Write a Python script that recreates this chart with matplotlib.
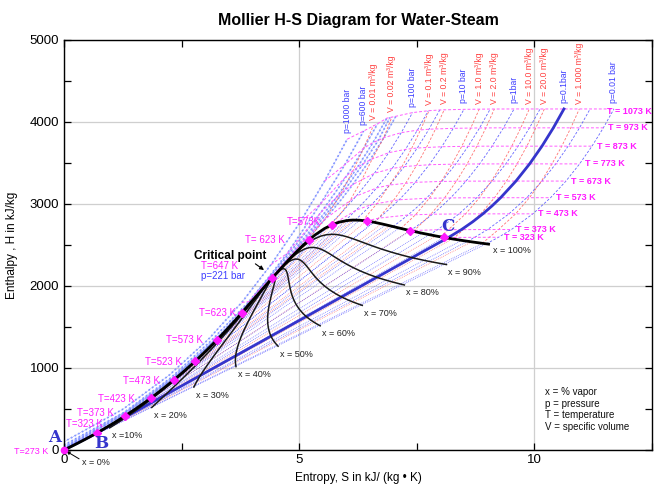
import matplotlib
matplotlib.use("Agg")
import matplotlib.pyplot as plt

# ---------------- saturation table (T in degC, h in kJ/kg, s in kJ/kgK) ----------------
SAT_T = [0.01, 5, 10, 20, 30, 40, 50, 60, 80, 100, 120, 140, 150, 160, 180, 200, 220, 240,
         250, 260, 280, 300, 320, 340, 350, 360, 370, 374.14]
SAT_HF = [0.01, 20.98, 42.01, 83.96, 125.79, 167.57, 209.33, 251.13, 334.91, 419.04, 503.71,
          589.13, 632.20, 675.55, 763.22, 852.45, 943.62, 1037.32, 1085.36, 1134.37, 1236.0,
          1344.0, 1461.5, 1594.2, 1671.9, 1764.2, 1890.5, 2099.3]
SAT_HG = [2501.4, 2510.6, 2519.8, 2538.1, 2556.3, 2574.3, 2592.1, 2609.6, 2643.7, 2676.1,
          2706.3, 2733.9, 2746.5, 2758.1, 2778.2, 2793.2, 2802.1, 2804.0, 2801.5, 2796.6,
          2779.6, 2749.0, 2700.1, 2622.0, 2563.9, 2481.0, 2332.1, 2099.3]
SAT_SF = [0.0, 0.0761, 0.1510, 0.2966, 0.4369, 0.5725, 0.7038, 0.8312, 1.0753, 1.3069, 1.5276,
          1.7391, 1.8418, 1.9427, 2.1396, 2.3309, 2.5178, 2.7015, 2.7927, 2.8838, 3.0668,
          3.2534, 3.4480, 3.6594, 3.7777, 3.9147, 4.1106, 4.4298]
SAT_SG = [9.1562, 9.0257, 8.9008, 8.6672, 8.4533, 8.2570, 8.0763, 7.9096, 7.6122, 7.3549,
          7.1296, 6.9299, 6.8379, 6.7502, 6.5857, 6.4323, 6.2861, 6.1437, 6.0730, 6.0019,
          5.8571, 5.7045, 5.5362, 5.3357, 5.2112, 5.0526, 4.7971, 4.4298]

QUALITIES = [0.1, 0.2, 0.3, 0.4, 0.5, 0.6, 0.7, 0.8, 0.9]
QUALITY_LABELS = ["x =10%", "x = 20%", "x = 30%", "x = 40%", "x = 50%", "x = 60%",
                  "x = 70%", "x = 80%", "x = 90%"]

# marked saturation states (degC) and their labels
LIQ_MARK_T = [50, 100, 150, 200, 250, 300, 350]
LIQ_MARK_LABELS = ["T=323 K", "T=373 K", "T=423 K", "T=473 K", "T=523 K", "T=573 K", "T=623 K"]
VAP_MARK_T = [350, 300, 200, 100, 50]
VAP_MARK_LABELS = ["T= 623 K", "T=573K", "", "", ""]

# ---------------- isobars: T (degC), S, H ----------------
P1000_T = [0.01, 100, 200, 300, 400, 500, 600, 700, 800]
P1000_S = [-0.01, 1.26, 2.23, 3.07, 3.78, 4.40, 5.00, 5.54, 6.02]
P1000_H = [97, 500, 910, 1350, 1800, 2260, 2760, 3280, 3790]

P600_T = [0.01, 100, 200, 300, 400, 450, 500, 600, 700, 800]
P600_S = [0.0, 1.28, 2.27, 3.14, 3.93, 4.30, 4.75, 5.45, 5.97, 6.37]
P600_H = [60, 460, 880, 1340, 1810, 2070, 2400, 3000, 3480, 3890]

P400_T = [0.01, 100, 200, 300, 375, 400, 425, 450, 500, 550, 600, 650, 700, 800]
P400_S = [0.0, 1.29, 2.29, 3.18, 3.8289, 4.1141, 4.5029, 4.9447, 5.4700, 5.7785, 6.0114,
          6.2054, 6.3750, 6.6662]
P400_H = [40, 455, 870, 1330, 1677.1, 1930.9, 2198.1, 2512.8, 2903.3, 3149.1, 3346.4,
          3520.6, 3681.5, 3978.3]

P300_T = [0.01, 100, 200, 300, 350, 375, 400, 425, 450, 500, 600, 700, 800]
P300_S = [0.0, 1.29, 2.30, 3.20, 3.65, 3.9305, 4.4728, 5.15, 5.4423, 5.7956, 6.2331, 6.5703, 6.8630]
P300_H = [30, 445, 866, 1330, 1620, 1791.5, 2151.1, 2614, 2821.4, 3083.3, 3444.0, 3750.7, 4047.1]

P250_T = [0.01, 100, 200, 300, 350, 375, 400, 425, 450, 500, 600, 700, 800]
P250_S = [0.0, 1.295, 2.305, 3.21, 3.69, 4.0320, 5.1418, 5.4723, 5.6744, 5.9592, 6.3602, 6.68, 6.93]
P250_H = [25, 440, 864, 1333, 1625, 1848.0, 2580.2, 2806.3, 2949.7, 3162.4, 3491.4, 3776, 4055]

P200_T = [0.01, 100, 200, 300, 350, 365.81, 365.81, 400, 450, 500, 600, 700, 800]
P200_S = [0.0, 1.30, 2.31, 3.22, 3.73, 4.0139, 4.9269, 5.5540, 5.9017, 6.1401, 6.5048, 6.7993, 7.0544]
P200_H = [20, 436, 861, 1335, 1650, 1826.3, 2409.7, 2818.1, 3060.1, 3238.2, 3537.6, 3809.0, 4069.8]

P100_T = [0.01, 50, 100, 200, 300, 311.06, 311.06, 350, 400, 450, 500, 600, 700, 800]
P100_S = [0.0003, 0.70, 1.30, 2.32, 3.21, 3.3606, 5.6159, 5.9460, 6.2141, 6.4219, 6.5995,
          6.9045, 7.1696, 7.4087]
P100_H = [10.1, 218, 427, 857, 1343, 1408.1, 2725.5, 2924.0, 3097.5, 3242.4, 3375.1,
          3625.8, 3870.0, 4114.5]

P50_T = [263.99, 263.99, 300, 350, 400, 450, 500, 600, 700, 800]
P50_S = [2.9202, 5.9734, 6.2084, 6.4493, 6.6459, 6.8186, 6.9759, 7.2589, 7.5122, 7.7440]
P50_H = [1154.2, 2794.3, 2924.5, 3068.4, 3195.7, 3316.2, 3433.8, 3666.5, 3900.1, 4137.1]

P30_T = [233.85, 233.85, 250, 300, 350, 400, 500, 600, 700, 800]
P30_S = [2.6454, 6.1856, 6.2893, 6.5412, 6.7449, 6.9234, 7.2359, 7.5103, 7.7590, 7.9885]
P30_H = [1008.3, 2803.2, 2856.5, 2994.3, 3116.1, 3231.7, 3457.0, 3682.8, 3912.2, 4146.9]

P10_T = [179.88, 179.88, 200, 250, 300, 350, 400, 500, 600, 700, 800]
P10_S = [2.1387, 6.5850, 6.6956, 6.9265, 7.1246, 7.3029, 7.4670, 7.7642, 8.0311, 8.2755, 8.5024]
P10_H = [762.8, 2777.1, 2828.3, 2943.1, 3051.6, 3158.2, 3264.5, 3479.1, 3698.6, 3923.0, 4154.3]

P3_T = [133.52, 133.52, 150, 200, 250, 300, 350, 400, 500, 600, 700, 800]
P3_S = [1.6717, 6.9916, 7.0792, 7.3132, 7.5180, 7.7037, 7.873, 8.0347, 8.3271, 8.5915, 8.8345, 9.0605]
P3_H = [561.5, 2724.9, 2761.2, 2865.9, 2967.9, 3069.6, 3172, 3275.5, 3486.6, 3704.0, 3927.6, 4158.1]

P1_T = [99.61, 99.61, 150, 200, 250, 300, 350, 400, 500, 600, 700, 800]
P1_S = [1.3026, 7.3589, 7.6148, 7.8356, 8.0346, 8.2172, 8.386, 8.5452, 8.8362, 9.0999, 9.3424, 9.5682]
P1_H = [417.5, 2675.0, 2776.6, 2875.5, 2974.5, 3074.5, 3176, 3278.6, 3488.7, 3705.6, 3928.9, 4159.2]

P03_T = [69.09, 69.09, 100, 200, 300, 400, 500, 600, 700, 800]
P03_S = [0.9441, 7.7675, 7.941, 8.397, 8.774, 9.101, 9.391, 9.654, 9.896, 10.121]
P03_H = [289.3, 2624.6, 2686.0, 2879.0, 3076.2, 3279.4, 3489.0, 3705.3, 3928.6, 4158.9]

P01_T = [0.01, 45.81, 45.81, 50, 100, 150, 200, 250, 300, 400, 500, 600, 700, 800]
P01_S = [0.0, 0.6493, 8.1488, 8.1741, 8.4479, 8.6882, 8.9038, 9.1002, 9.2813, 9.6077, 9.8978,
         10.1608, 10.4028, 10.6281]
P01_H = [0.01, 191.8, 2583.9, 2592.0, 2687.5, 2783.0, 2879.5, 2977.3, 3076.5, 3279.6, 3489.1,
         3705.4, 3928.7, 4159.0]

P003_T = [24.08, 24.08, 50, 100, 200, 300, 400, 500, 600, 700, 800]
P003_S = [0.3543, 8.5765, 8.730, 9.004, 9.460, 9.837, 10.163, 10.454, 10.717, 10.959, 11.184]
P003_H = [101.0, 2544.8, 2593.5, 2688.2, 2880.0, 3076.7, 3279.7, 3489.2, 3705.5, 3928.8, 4159.1]

P001_T = [6.97, 6.97, 50, 100, 200, 300, 400, 500, 600, 700, 800]
P001_S = [0.1059, 8.975, 9.237, 9.511, 9.967, 10.344, 10.671, 10.961, 11.224, 11.466, 11.691]
P001_H = [29.3, 2513.7, 2594.5, 2688.6, 2880.1, 3076.8, 3279.7, 3489.2, 3705.5, 3928.8, 4159.1]

# ---------------- isochores (superheated part) ----------------
V001_S = [5.22, 5.55, 5.88, 6.15, 6.37, 6.58]
V001_H = [2588, 2818, 3120, 3415, 3680, 3960]
V002_S = [5.66, 5.88, 6.07, 6.34, 6.55, 6.79, 6.97]
V002_H = [2738, 2880, 3030, 3305, 3545, 3800, 4060]
V01_S = [6.35, 6.66, 6.92, 7.186, 7.394, 7.586, 7.767]
V01_H = [2797, 3010, 3232, 3456, 3682, 3912, 4146]
V02_S = [6.60, 6.69, 7.025, 7.279, 7.506, 7.714, 7.906, 8.087]
V02_H = [2777, 2828, 3060, 3267, 3481, 3700, 3924, 4155]
V1_S = [7.16, 7.475, 7.768, 8.022, 8.249, 8.457, 8.649, 8.829]
V1_H = [2702, 2870, 3072, 3277, 3488, 3705, 3929, 4159]
V2_S = [7.43, 7.795, 8.088, 8.342, 8.569, 8.777, 8.969, 9.149]
V2_H = [2668, 2873, 3073, 3278, 3488, 3705, 3929, 4159]
V10_S = [8.00, 8.173, 8.538, 8.831, 9.085, 9.311, 9.519, 9.711, 9.892]
V10_H = [2600, 2688, 2880, 3076, 3279, 3489, 3705, 3929, 4159]
V20_S = [8.265, 8.493, 8.858, 9.151, 9.405, 9.631, 9.839, 10.031, 10.212]
V20_H = [2573, 2688, 2880, 3076, 3279, 3489, 3705, 3929, 4159]
V100_S = [8.89, 9.236, 9.601, 9.894, 10.148, 10.374, 10.582, 10.774, 10.955]
V100_H = [2520, 2688, 2880, 3076, 3279, 3489, 3705, 3929, 4159]

ISOTHERM_K = [323, 373, 473, 573, 673, 773, 873, 973, 1073]

# (label, T, S, H, supercritical?)
ISOBARS = [
    ("p=1000 bar", P1000_T, P1000_S, P1000_H, True),
    ("p=600 bar", P600_T, P600_S, P600_H, True),
    ("", P400_T, P400_S, P400_H, True),
    ("", P300_T, P300_S, P300_H, True),
    ("", P250_T, P250_S, P250_H, True),
    ("", P200_T, P200_S, P200_H, True),
    ("p=100 bar", P100_T, P100_S, P100_H, False),
    ("", P50_T, P50_S, P50_H, False),
    ("", P30_T, P30_S, P30_H, False),
    ("p=10 bar", P10_T, P10_S, P10_H, False),
    ("", P3_T, P3_S, P3_H, False),
    ("p=1bar", P1_T, P1_S, P1_H, False),
    ("", P03_T, P03_S, P03_H, False),
    ("p=0.1bar", P01_T, P01_S, P01_H, False),
    ("", P003_T, P003_S, P003_H, False),
    ("p=0.01 bar", P001_T, P001_S, P001_H, False),
]
ISOCHORES = [
    ("V = 0.01 m\u00b3/kg", V001_S, V001_H),
    ("V = 0.02 m\u00b3/kg", V002_S, V002_H),
    ("V = 0.1 m\u00b3/kg", V01_S, V01_H),
    ("V = 0.2 m\u00b3/kg", V02_S, V02_H),
    ("V = 1.0 m\u00b3/kg", V1_S, V1_H),
    ("V = 2.0 m\u00b3/kg", V2_S, V2_H),
    ("V = 10.0 m\u00b3/kg", V10_S, V10_H),
    ("V = 20.0 m\u00b3/kg", V20_S, V20_H),
    ("V = 1.000 m\u00b3/kg", V100_S, V100_H),
]

# ---------------- styling ----------------
BLUE = "#4a4aff"
LBLUE = "#90a6ff"
RED = "#ff5a5a"
PINK = "#ff5cff"
MAG = "#ff1aff"
BLUE_TXT = "#3d3dff"
RED_TXT = "#ff4040"
DOT = (0, (1, 1.3))
DASH = (0, (3, 2))

plt.rcParams["font.family"] = ["Liberation Sans", "DejaVu Sans"]

fig = plt.figure(figsize=(6.59, 4.88), dpi=100)
ax = fig.add_axes([64 / 659, 1 - 450 / 488, 588 / 659, 410 / 488])
ax.set_xlim(0, 12.43)
ax.set_ylim(0, 5000)

ax.set_xticks([0, 5, 10])
ax.set_xticks([2.5, 7.5, 12.5], minor=True)
ax.set_yticks([0, 1000, 2000, 3000, 4000, 5000])
ax.set_yticks([500, 1500, 2500, 3500, 4500], minor=True)
ax.tick_params(which="both", direction="in", top=True, right=True, length=5, width=0.9,
               labelsize=9.5, colors="black")
ax.tick_params(axis="x", pad=3)
ax.grid(which="major", color="#cfcfcf", lw=0.9, zorder=0)
for sp in ax.spines.values():
    sp.set_linewidth(1.0)

ax.set_title("Mollier H-S Diagram for Water-Steam", fontsize=11.5, fontweight="bold", pad=11)
ax.set_xlabel("Entropy, S in kJ/ (kg \u2022 K)", fontsize=8.5, labelpad=4)
ax.set_ylabel("Enthalpy , H in kJ/kg", fontsize=8.5, labelpad=8)

# wet-region isobars/isotherms (straight lines between saturated states)
for i in range(2, len(SAT_T) - 1):
    col = BLUE if i % 2 == 0 else RED
    ax.plot([SAT_SF[i], SAT_SG[i]], [SAT_HF[i], SAT_HG[i]], color=col, lw=0.6,
            ls=DOT, alpha=0.75, zorder=2)

# isobars
for label, T, S, H, sup in ISOBARS:
    if sup:
        # compressed liquid + supercritical: light blue band / fan
        ax.plot(S, H, color=LBLUE, lw=1.3, ls=DOT, zorder=2)
        ax.plot(S, H, color=BLUE, lw=0.5, ls=DOT, alpha=0.6, zorder=2)
        continue
    if label == "p=0.1bar":
        continue
    # index of the saturated-liquid state (first repeated temperature)
    ks = next(k for k in range(len(T) - 1) if T[k + 1] == T[k])
    if ks > 0:
        ax.plot(S[:ks + 1], H[:ks + 1], color=LBLUE, lw=1.3, ls=DOT, zorder=2)
    ax.plot(S[ks:ks + 2], H[ks:ks + 2], color=BLUE, lw=0.6, ls=DOT, alpha=0.8, zorder=2)
    ax.plot(S[ks + 1:], H[ks + 1:], color=BLUE, lw=0.6, ls=DASH, alpha=0.85, zorder=2)

# isochores
for label, S, H in ISOCHORES:
    ax.plot(S, H, color=RED, lw=0.6, ls=DASH, alpha=0.85, zorder=2)

# isotherms (superheated part), built from the isobar tables
for TK in ISOTHERM_K:
    TC = TK - 273
    pts = []
    if TC in SAT_T:
        i = SAT_T.index(TC)
        pts.append((SAT_SG[i], SAT_HG[i]))
        smin = SAT_SG[i] + 0.01
    else:
        smin = -1
    for label, T, S, H, sup in ISOBARS:
        for k in range(len(T)):
            if T[k] == TC and S[k] > smin:
                pts.append((S[k], H[k]))
    pts.sort()
    xs = [p[0] for p in pts]
    ys = [p[1] for p in pts]
    ax.plot(xs, ys, color=PINK, lw=0.7, ls=DASH, zorder=2)
    off = (-7, -3) if TK == 1073 else (5, 0)
    ax.annotate("T = %d K" % TK, (xs[-1], ys[-1]), xytext=off, textcoords="offset pixels",
                ha="left", va="center", fontsize=6.5, color=MAG, fontweight="bold")

# p = 0.1 bar thick line
ax.plot(P01_S, P01_H, color="#3535cc", lw=2.0, zorder=4)

# quality lines
start = SAT_T.index(5)
for q, lab in zip(QUALITIES, QUALITY_LABELS):
    xs = [SAT_SF[i] + q * (SAT_SG[i] - SAT_SF[i]) for i in range(start, len(SAT_T))]
    ys = [SAT_HF[i] + q * (SAT_HG[i] - SAT_HF[i]) for i in range(start, len(SAT_T))]
    ax.plot(xs, ys, color="#1a1a1a", lw=1.1, zorder=5)
    ax.annotate(lab, (xs[0], ys[0]), xytext=(2, -8), textcoords="offset pixels",
                ha="left", va="center", fontsize=6.5, color="#222222")

# saturation dome
ax.plot(SAT_SF, SAT_HF, color="black", lw=2.0, zorder=6)
ax.plot(SAT_SG[start:], SAT_HG[start:], color="black", lw=2.0, zorder=6)
ax.annotate("x = 100%", (SAT_SG[start], SAT_HG[start]), xytext=(4, -6),
            textcoords="offset pixels", ha="left", va="center", fontsize=6.5, color="#222222")

# isobar / isochore top labels
for label, T, S, H, sup in ISOBARS:
    if label:
        ax.annotate(label, (S[-1], H[-1]), xytext=(0, 6), textcoords="offset pixels",
                    rotation=90, ha="center", va="bottom", fontsize=6.2, color=BLUE_TXT)
for label, S, H in ISOCHORES:
    ax.annotate(label, (S[-1], H[-1]), xytext=(0, 5), textcoords="offset pixels",
                rotation=90, ha="center", va="bottom", fontsize=6.2, color=RED_TXT)

# markers on saturation line
LIQ_OFF = [(6, 9), (-11, 3), (-16, -1), (-14, -1), (-13, -1), (-14, 0), (-6, 0)]
for TC, lab, off in zip(LIQ_MARK_T, LIQ_MARK_LABELS, LIQ_OFF):
    i = SAT_T.index(TC)
    ax.plot(SAT_SF[i], SAT_HF[i], marker="D", ms=4.5, color=MAG, zorder=8)
    ax.annotate(lab, (SAT_SF[i], SAT_HF[i]), xytext=off, textcoords="offset pixels",
                ha="right", va="center", fontsize=7, color=MAG)
VAP_OFF = [(-24, 0), (-11, 3), (0, 0), (0, 0), (0, 0)]
for TC, lab, off in zip(VAP_MARK_T, VAP_MARK_LABELS, VAP_OFF):
    i = SAT_T.index(TC)
    ax.plot(SAT_SG[i], SAT_HG[i], marker="D", ms=4.5, color=MAG, zorder=8)
    if lab:
        ax.annotate(lab, (SAT_SG[i], SAT_HG[i]), xytext=off, textcoords="offset pixels",
                    ha="right", va="center", fontsize=7, color=MAG)

# critical point and triple point markers
ic = len(SAT_T) - 1
ax.plot(SAT_SF[ic], SAT_HF[ic], marker="D", ms=4.5, color=MAG, zorder=8)
ax.plot(SAT_SF[0], SAT_HF[0], marker="o", ms=4.5, color=MAG, zorder=8, clip_on=False)

ax.text(3.53, 2366, "Critical point", fontsize=8.5, fontweight="bold", ha="center",
        va="center", zorder=9)
ax.text(2.92, 2244, "T=647 K", fontsize=7, color=MAG, ha="left", va="center", zorder=9)
ax.text(2.92, 2122, "p=221 bar", fontsize=7, color=BLUE_TXT, ha="left", va="center", zorder=9)
ax.annotate("", xy=(4.30, 2175), xytext=(4.02, 2290),
            arrowprops=dict(arrowstyle="-|>", color="black", lw=0.8, mutation_scale=6), zorder=9)

# A, B, C and origin notes
ax.text(-0.19, 150, "A", fontsize=12, fontweight="bold", color="#3535cc", family="DejaVu Serif",
        ha="center", va="center", clip_on=False)
ax.text(0.80, 85, "B", fontsize=12, fontweight="bold", color="#3535cc", family="DejaVu Serif",
        ha="center", va="center", zorder=9)
ax.text(8.16, 2730, "C", fontsize=12, fontweight="bold", color="#3535cc", family="DejaVu Serif",
        ha="center", va="center", zorder=9)
ax.text(-0.33, -15, "T=273 K", fontsize=6.5, color=MAG, ha="right", va="center", clip_on=False)
ax.annotate("x = 0%", xy=(0.05, -15), xytext=(0.38, -150), fontsize=6.5, color="#222222",
            ha="left", va="center", annotation_clip=False,
            arrowprops=dict(arrowstyle="-|>", color="black", lw=0.7, mutation_scale=5,
                            shrinkA=0, shrinkB=0, relpos=(0, 0.7)))

# legend text
LEGEND_LINES = ["x = % vapor", "p = pressure", "T = temperature", "V = specific volume"]
for k, line in enumerate(LEGEND_LINES):
    ax.text(10.23, 707 - 142 * k, line, fontsize=7, ha="left", va="center", color="#111111")

fig.savefig("out.png", dpi=100)
